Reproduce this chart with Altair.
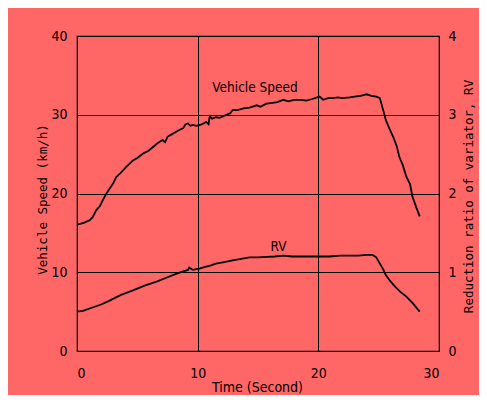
import altair as alt
import pandas as pd

# Vehicle speed (km/h) vs time (s)
speed_t = [0.0, 0.2, 0.6, 1.05, 1.3, 1.6, 1.9, 2.15, 2.4, 2.7, 3.0, 3.26, 3.6, 4.1, 4.64, 5.0, 5.5, 5.9, 6.3, 6.7,
           7.1, 7.3, 7.5, 7.96, 8.4, 8.8, 9.0, 9.2, 9.4, 9.6, 9.9, 10.2, 10.5, 10.7, 10.9, 11.0, 11.2, 11.5, 11.8,
           12.1, 12.4, 12.7, 12.9, 13.3, 13.8, 14.3, 14.9, 15.2, 15.7, 16.2, 16.6, 17.1, 17.5, 18.0, 18.5, 19.0,
           19.5, 20.1, 20.4, 20.8, 21.2, 21.6, 22.0, 22.6, 23.0, 23.5, 24.0, 24.4, 24.8, 25.1, 25.3, 25.6, 25.9,
           26.2, 26.5, 26.7, 27.0, 27.3, 27.6, 27.8, 28.1, 28.4]
speed_v = [16.1, 16.1, 16.3, 16.6, 17.0, 17.9, 18.4, 19.2, 19.9, 20.6, 21.3, 22.1, 22.6, 23.4, 24.2, 24.5, 25.1, 25.4,
           25.9, 26.4, 26.8, 26.5, 27.2, 27.6, 28.0, 28.3, 28.8, 28.9, 28.6, 28.7, 28.6, 28.7, 28.9, 29.1, 28.8,
           29.8, 29.5, 29.7, 29.6, 29.8, 30.0, 30.2, 30.6, 30.6, 30.8, 30.9, 31.2, 31.0, 31.4, 31.5, 31.6, 31.9,
           31.7, 31.9, 31.9, 31.8, 32.0, 32.3, 31.9, 32.1, 32.1, 32.2, 32.1, 32.2, 32.3, 32.4, 32.6, 32.4, 32.3,
           32.1, 31.0, 29.3, 28.2, 27.2, 26.0, 24.7, 23.6, 22.1, 21.2, 19.6, 18.3, 17.1]

# Reduction ratio of variator RV vs time (s)
rv_t = [0.0, 0.5, 1.05, 2.0, 2.7, 3.6, 4.64, 5.6, 6.6, 7.4, 8.2, 8.8, 9.2, 9.3, 9.6, 10.2, 10.7, 11.0, 11.5, 12.2,
        12.9, 13.6, 14.3, 15.0, 15.7, 16.4, 17.1, 17.8, 18.5, 19.3, 20.1, 20.9, 21.8, 22.6, 23.3, 24.0, 24.5,
        24.8, 25.1, 25.4, 25.6, 26.0, 26.4, 26.8, 27.3, 27.8, 28.4]
rv_v = [0.50, 0.51, 0.54, 0.59, 0.64, 0.71, 0.77, 0.83, 0.88, 0.93, 0.98, 1.01, 1.03, 1.06, 1.03, 1.05, 1.07, 1.08,
        1.11, 1.13, 1.15, 1.17, 1.19, 1.19, 1.195, 1.20, 1.21, 1.20, 1.20, 1.20, 1.20, 1.20, 1.21, 1.21, 1.21,
        1.22, 1.22, 1.19, 1.11, 1.03, 0.96, 0.88, 0.81, 0.75, 0.69, 0.61, 0.50]

label_text = ["Vehicle Speed", "RV"]
label_t = [14.75, 16.7]
label_y = [33.4, 13.2]

speed_df = pd.DataFrame({"t": speed_t, "v": speed_v})
rv_df = pd.DataFrame({"t": rv_t, "rv": rv_v})
lab_df = pd.DataFrame({"t": label_t, "y": label_y, "text": label_text})

NARROW = "Liberation Sans Narrow, DejaVu Sans Condensed, Arial Narrow, sans-serif"
MONO = "DejaVu Sans Mono, Liberation Mono, monospace"

x_enc = alt.X("t:Q", scale=alt.Scale(domain=[0, 30], nice=False),
              axis=alt.Axis(values=[0, 10, 20, 30], title="Time (Second)", grid=True, gridColor="black",
                            gridOpacity=1, gridWidth=1, ticks=False, domain=False, labelPadding=15,
                            labelFont=NARROW, labelFontSize=14, labelColor="black",
                            titleFont=NARROW, titleFontSize=14, titleFontWeight="normal", titleColor="black",
                            titleX=180, titleY=36, titleBaseline="middle", titleAlign="center"))

speed = alt.Chart(speed_df).mark_line(color="black", strokeWidth=1.8).encode(
    x=x_enc,
    y=alt.Y("v:Q", scale=alt.Scale(domain=[0, 40], nice=False),
            axis=alt.Axis(values=[0, 10, 20, 30, 40], title="Vehicle Speed (km/h)", grid=True,
                          gridColor="black", gridOpacity=1, gridWidth=1, ticks=False, domain=False,
                          labelPadding=10, labelFont=NARROW, labelFontSize=14, labelColor="black",
                          titleFont=MONO, titleFontSize=12.5, titleFontWeight="normal", titleColor="black",
                          titleX=-35, titleY=163, titleAngle=270, titleBaseline="middle", titleAlign="center")),
)

labels = alt.Chart(lab_df).mark_text(font=NARROW, fontSize=13.5, color="black").encode(
    x=alt.X("t:Q"), y=alt.Y("y:Q"), text="text:N")

rv = alt.Chart(rv_df).mark_line(color="black", strokeWidth=1.8).encode(
    x=alt.X("t:Q"),
    y=alt.Y("rv:Q", scale=alt.Scale(domain=[0, 4], nice=False),
            axis=alt.Axis(values=[0, 1, 2, 3, 4], orient="right", title="Reduction ratio of variator, RV",
                          grid=False, ticks=False, domain=False, labelPadding=9, labelFont=NARROW,
                          labelFontSize=14, labelColor="black", titleFont=MONO, titleFontSize=12.5,
                          titleFontWeight="normal", titleColor="black", titleX=29, titleY=160,
                          titleAngle=270, titleBaseline="middle", titleAlign="center")),
)

left = alt.layer(speed, labels)
chart = alt.layer(left, rv).resolve_scale(y="independent").properties(
    width=362, height=315,
    autosize=alt.AutoSizeParams(type="none"),
    padding={"left": 69, "top": 28, "right": 40, "bottom": 44},
    background="#FF6666",
).configure_view(stroke="black", strokeWidth=1.2)

chart.save("out.html", embed_options={"renderer": "svg", "actions": False})
